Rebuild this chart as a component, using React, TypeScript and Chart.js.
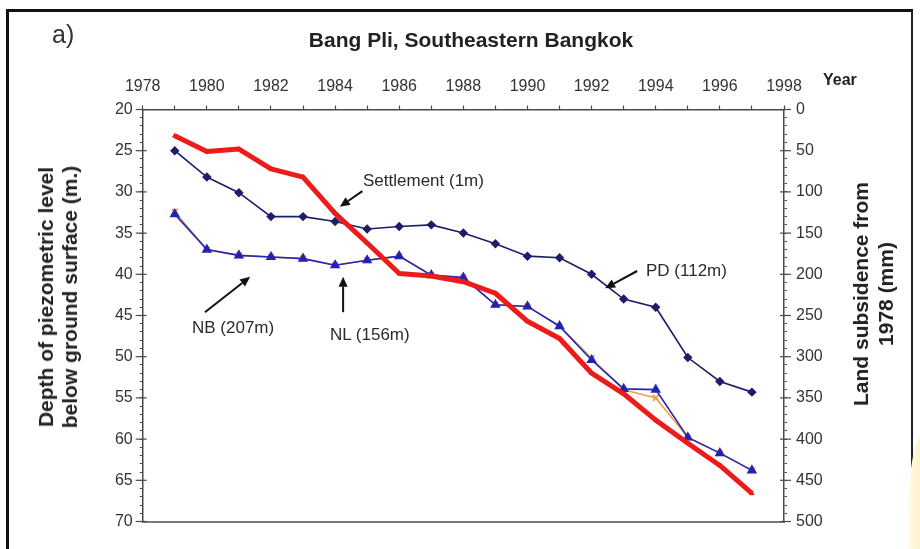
import { useEffect, useRef } from 'react';
import { Chart, registerables } from 'chart.js';

Chart.register(...registerables);

// Observation years (one reading per year)
const years = [1979, 1980, 1981, 1982, 1983, 1984, 1985, 1986, 1987, 1988, 1989, 1990, 1991, 1992, 1993, 1994, 1995, 1996, 1997];

// Land subsidence since 1978 at the 1 m settlement marker (mm, right axis)
const settlementMm = [32, 51, 48, 72, 82, 126, 162, 199, 202, 209, 223, 257, 278, 320, 345, 377, 405, 432, 466];

// Piezometric level depths below ground surface (m, left axis)
const pdDepth = [25.0, 28.2, 30.1, 33.0, 33.0, 33.6, 34.5, 34.2, 34.0, 35.0, 36.3, 37.8, 38.0, 40.0, 43.0, 44.0, 50.1, 53.0, 54.3];
const nlDepth = [32.7, 37.0, 37.7, 37.9, 38.1, 38.9, 38.3, 37.8, 40.1, 40.4, 43.7, 43.9, 46.3, 50.4, 53.9, 54.0, 59.8, 61.7, 63.8];
const nbDepth = [32.4, 37.0, 37.7, 37.9, 38.1, 38.9, 38.3, 37.8, 40.1, 40.4, 43.7, 43.9, 46.3, 50.2, 54.0, 55.0, 59.8, 61.7, 63.8];

// Axis ranges
const yearRange = [1978, 1998];
const depthRange = [20, 70];
const subsidenceRange = [0, 500];
const yearLabelStep = 2;
const depthLabelStep = 5;
const subsidenceLabelStep = 50;

// Pointer arrows for the series labels, in (year, depth) coordinates: [tailX, tailY, headX, headY]
const arrows = [
  [1984.85, 29.9, 1984.15, 31.8],
  [1993.42, 39.6, 1992.42, 41.7],
  [1979.94, 44.6, 1981.35, 40.3],
  [1984.25, 44.6, 1984.25, 40.3],
];

const FONT = '"Liberation Sans", Arial, Helvetica, sans-serif';
const AXIS_COLOR = '#4a4a4a';

const axisDecor = {
  id: 'axisDecor',
  afterDatasetsDraw(chart: any) {
    const { ctx, scales } = chart;
    const x = scales.x;
    const y = scales.y;
    const y2 = scales.y2;
    ctx.save();
    ctx.strokeStyle = AXIS_COLOR;
    ctx.lineWidth = 1.2;
    // longer, crossing marks at the labelled values
    for (let v = depthRange[0]; v <= depthRange[1]; v += depthLabelStep) {
      const py = y.getPixelForValue(v);
      ctx.beginPath();
      ctx.moveTo(y.right - 7, py);
      ctx.lineTo(y.right + 4, py);
      ctx.stroke();
    }
    for (let v = subsidenceRange[0]; v <= subsidenceRange[1]; v += subsidenceLabelStep) {
      const py = y2.getPixelForValue(v);
      ctx.beginPath();
      ctx.moveTo(y2.left - 4, py);
      ctx.lineTo(y2.left + 7, py);
      ctx.stroke();
    }
    // label pointers
    ctx.strokeStyle = '#111';
    ctx.fillStyle = '#111';
    ctx.lineWidth = 2;
    for (const [tx, ty, hx, hy] of arrows) {
      const x0 = x.getPixelForValue(tx);
      const y0 = y.getPixelForValue(ty);
      const x1 = x.getPixelForValue(hx);
      const y1 = y.getPixelForValue(hy);
      const ang = Math.atan2(y1 - y0, x1 - x0);
      const len = 10;
      const half = 4.5;
      const bx = x1 - Math.cos(ang) * len;
      const by = y1 - Math.sin(ang) * len;
      ctx.beginPath();
      ctx.moveTo(x0, y0);
      ctx.lineTo(bx, by);
      ctx.stroke();
      ctx.beginPath();
      ctx.moveTo(x1, y1);
      ctx.lineTo(bx - Math.sin(ang) * half, by + Math.cos(ang) * half);
      ctx.lineTo(bx + Math.sin(ang) * half, by - Math.cos(ang) * half);
      ctx.closePath();
      ctx.fill();
    }
    ctx.restore();
  },
};

export default function App() {
  const canvasRef = useRef<HTMLCanvasElement | null>(null);

  useEffect(() => {
    const canvas = canvasRef.current;
    if (!canvas) return;
    const pts = (vals: number[]) => vals.map((v, i) => ({ x: years[i], y: v }));

    const chart = new Chart(canvas, {
      type: 'line',
      data: {
        datasets: [
          {
            label: 'Settlement (1m)',
            data: pts(settlementMm),
            yAxisID: 'y2',
            borderColor: '#ee1b1b',
            backgroundColor: '#ee1b1b',
            borderWidth: 5,
            borderJoinStyle: 'round',
            pointStyle: 'triangle',
            pointRadius: 2.5,
            pointBorderWidth: 1,
            order: 1,
          },
          {
            label: 'PD (112m)',
            data: pts(pdDepth),
            yAxisID: 'y',
            borderColor: '#1d1d6b',
            backgroundColor: '#1d1d6b',
            borderWidth: 1.6,
            pointStyle: 'rectRot',
            pointRadius: 3.6,
            order: 2,
          },
          {
            label: 'NL (156m)',
            data: pts(nlDepth),
            yAxisID: 'y',
            borderColor: '#2626b4',
            backgroundColor: '#1f1fb0',
            borderWidth: 1.6,
            pointStyle: 'triangle',
            pointRadius: 4.5,
            order: 3,
          },
          {
            label: 'NB (207m)',
            data: pts(nbDepth),
            yAxisID: 'y',
            borderColor: '#f2a24e',
            backgroundColor: '#f2a24e',
            borderWidth: 1.6,
            pointStyle: 'crossRot',
            pointRadius: 4,
            pointBorderWidth: 2,
            order: 4,
          },
        ],
      },
      options: {
        animation: false,
        responsive: false,
        devicePixelRatio: 1,
        layout: { padding: 0 },
        plugins: {
          legend: { display: false },
          tooltip: { enabled: false },
          title: { display: false },
        },
        scales: {
          x: {
            type: 'linear',
            position: 'top',
            min: yearRange[0],
            max: yearRange[1],
            afterFit: (s: any) => { s.height = 109.5; },
            ticks: {
              stepSize: 1,
              autoSkip: false,
              maxRotation: 0,
              padding: 9,
              color: '#333',
              font: { family: FONT, size: 16 },
              callback: (v: any) => (Number(v) % yearLabelStep === 0 ? String(v) : ''),
            },
            grid: { drawOnChartArea: false, drawTicks: true, tickLength: 4, tickColor: AXIS_COLOR, tickWidth: 1.2 },
            border: { display: true, color: AXIS_COLOR, width: 1.5 },
          },
          xb: {
            type: 'linear',
            position: 'bottom',
            min: yearRange[0],
            max: yearRange[1],
            afterFit: (s: any) => { s.height = 27.5; },
            ticks: { display: false },
            grid: { drawOnChartArea: false, drawTicks: false },
            border: { display: true, color: '#7a7a7a', width: 2 },
          },
          y: {
            type: 'linear',
            position: 'left',
            reverse: true,
            min: depthRange[0],
            max: depthRange[1],
            afterFit: (s: any) => { s.width = 142.7; },
            ticks: {
              stepSize: 1,
              autoSkip: false,
              padding: 7,
              color: '#333',
              font: { family: FONT, size: 16 },
              callback: (v: any) => (Number(v) % depthLabelStep === 0 ? String(v) : ''),
            },
            grid: { drawOnChartArea: false, drawTicks: true, tickLength: 3, tickColor: AXIS_COLOR, tickWidth: 1 },
            border: { display: true, color: AXIS_COLOR, width: 1.5 },
          },
          y2: {
            type: 'linear',
            position: 'right',
            reverse: true,
            min: subsidenceRange[0],
            max: subsidenceRange[1],
            afterFit: (s: any) => { s.width = 136; },
            ticks: {
              stepSize: 10,
              autoSkip: false,
              padding: 9,
              color: '#333',
              font: { family: FONT, size: 16 },
              callback: (v: any) => (Number(v) % subsidenceLabelStep === 0 ? String(v) : ''),
            },
            grid: { drawOnChartArea: false, drawTicks: true, tickLength: 3, tickColor: AXIS_COLOR, tickWidth: 1 },
            border: { display: true, color: AXIS_COLOR, width: 1.5 },
          },
        },
      },
      plugins: [axisDecor],
    });
    return () => chart.destroy();
  }, []);

  const text = (extra: any) => ({ position: 'absolute' as const, fontFamily: FONT, color: '#2b2b2b', whiteSpace: 'nowrap' as const, ...extra });

  return (
    <div style={{ position: 'absolute', left: 0, top: 0, width: 920, height: 549, background: '#fff', overflow: 'hidden' }}>
      <div style={{ position: 'absolute', left: 6, top: 9, width: 907, height: 560, border: '3px solid #111', borderRight: '2px solid #222', boxSizing: 'border-box' }} />
      <div style={{ position: 'absolute', left: 908, top: 436, width: 24, height: 140, borderRadius: '60% 0 0 0', background: 'linear-gradient(90deg, #fffbe8 0%, #fff0c2 60%, #ffe9ad 100%)' }} />
      <canvas ref={canvasRef} width={920} height={549} style={{ position: 'absolute', left: 0, top: 0, width: 920, height: 549 }} />
      <div style={text({ left: 52, top: 22, fontSize: 25, lineHeight: '25px', color: '#333' })}>a)</div>
      <div style={text({ left: 221, width: 500, top: 29, fontSize: 21, lineHeight: '21px', fontWeight: 'bold', textAlign: 'center', color: '#222' })}>
        Bang Pli, Southeastern Bangkok
      </div>
      <div style={text({ left: 823, top: 72, fontSize: 16, lineHeight: '16px', fontWeight: 'bold', color: '#222' })}>Year</div>
      <div style={text({ left: 58, top: 297, fontSize: 21, lineHeight: '24px', fontWeight: 'bold', textAlign: 'center', color: '#222', transform: 'translate(-50%, -50%) rotate(-90deg)' })}>
        Depth of piezometric level<br />below ground surface (m.)
      </div>
      <div style={text({ left: 873, top: 294, fontSize: 21, lineHeight: '25px', fontWeight: 'bold', textAlign: 'center', color: '#222', transform: 'translate(-50%, -50%) rotate(-90deg)' })}>
        Land subsidence from<br />1978 (mm)
      </div>
      <div style={text({ left: 363, top: 172, fontSize: 17, lineHeight: '17px' })}>Settlement (1m)</div>
      <div style={text({ left: 646, top: 262, fontSize: 17, lineHeight: '17px' })}>PD (112m)</div>
      <div style={text({ left: 192, top: 319, fontSize: 17, lineHeight: '17px' })}>NB (207m)</div>
      <div style={text({ left: 330, top: 326, fontSize: 17, lineHeight: '17px' })}>NL (156m)</div>
    </div>
  );
}
